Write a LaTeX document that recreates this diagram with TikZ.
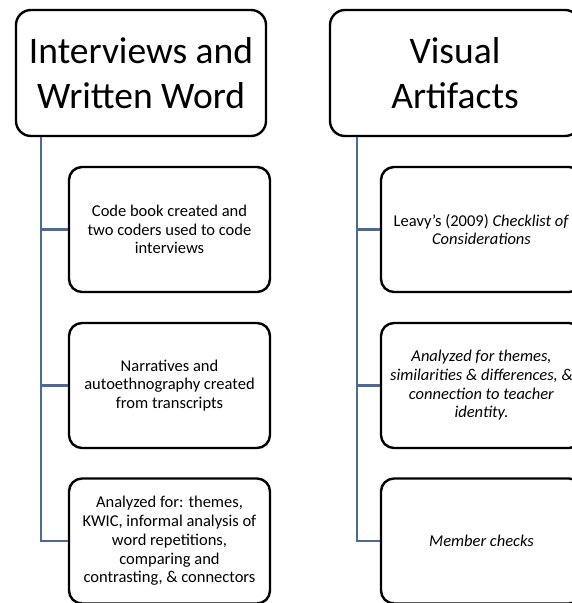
\documentclass[tikz,border=0pt]{standalone}
\usepackage{fontspec}
\setmainfont{Carlito}
\definecolor{connblue}{HTML}{4B6A99}
\tikzset{
  hdr/.style={draw=black, line width=2.4pt, rounded corners=15pt, fill=white,
    minimum width=250pt, minimum height=126pt, align=center, inner sep=0pt,
    font=\fontsize{37.5}{45}\selectfont},
  child/.style={draw=black, line width=2.4pt, rounded corners=13pt, fill=white,
    minimum width=201pt, minimum height=125pt, align=center, inner sep=0pt,
    font=\fontsize{16.5}{18.7}\selectfont},
  conn/.style={draw=connblue, line width=2.8pt}
}
\begin{document}
\begin{tikzpicture}[x=1pt,y=-1pt]
\useasboundingbox (0,0) rectangle (572,603);
\clip (0,0) rectangle (572,603);
\fill[white] (0,0) rectangle (572,603);
\coordinate (tL) at (41,0);
\coordinate (tR) at (357,0);
\node[hdr] (h1) at (141,73) {Interviews and\\Written Word};
\node[hdr] (h2) at (455,73) {Visual\\Artifacts};
\node[child] (c1) at (169.5,229.5) {Code book created and\\two coders used to code\\interviews};
\node[child] (c2) at (169.5,385.5) {Narratives and\\autoethnography created\\from transcripts};
\node[child] (c3) at (169.5,541) {Analyzed for: themes,\\KWIC, informal analysis of\\word repetitions,\\comparing and\\contrasting, \& connectors};
\node[child] (d1) at (481.5,229.5) {Leavy’s (2009) \textit{Checklist of}\\\textit{Considerations}};
\node[child] (d2) at (481.5,385.5) {\textit{Analyzed for themes,}\\\textit{similarities \& differences, \&}\\\textit{connection to teacher}\\\textit{identity.}};
\node[child] (d3) at (481.5,541) {\textit{Member checks}};
\draw[conn] (tL |- h1.south) |- (c3.west);
\draw[conn] (tL |- c1.west) -- (c1.west);
\draw[conn] (tL |- c2.west) -- (c2.west);
\draw[conn] (tR |- h2.south) |- (d3.west);
\draw[conn] (tR |- d1.west) -- (d1.west);
\draw[conn] (tR |- d2.west) -- (d2.west);
\end{tikzpicture}
\end{document}
